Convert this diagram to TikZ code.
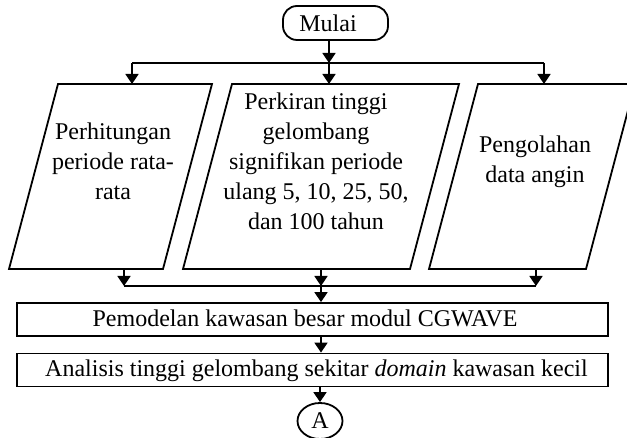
\documentclass[tikz,border=0pt]{standalone}
\usepackage{fontspec}
\setmainfont{Liberation Serif}
\usetikzlibrary{arrows.meta,shapes.geometric}
\begin{document}
\begin{tikzpicture}[x=0.5pt,y=-0.5pt,
  line width=0.9pt,
  arr/.style={-{Triangle[length=5pt,width=6.5pt]}},
  txt/.style={font=\fontsize{12}{15}\selectfont, align=center, inner sep=0pt},
  boxshape/.style={draw, minimum width=295.5pt, minimum height=16.5pt, inner sep=0pt},
]
\clip (0,0) rectangle (627,438);
% start terminal
\node[draw, rounded corners=7pt, minimum width=52.5pt, minimum height=17pt, inner sep=0pt] (mulai) at (335.5,23) {};
\node[txt] (mulaitxt) at (328,23) {Mulai};
% split
\coordinate (sl) at (132,63);
\coordinate (sc) at (329,63);
\coordinate (sr) at (544,63);
\draw[arr] (mulai.south -| sc) -- (sc);
\draw (sl) -- (sr);
% parallelograms
\coordinate (p1bl) at (9,269);  \coordinate (p1br) at (163,269);
\coordinate (p1tr) at (212,84); \coordinate (p1tl) at (58,84);
\coordinate (p2bl) at (183,269); \coordinate (p2br) at (410,269);
\coordinate (p2tr) at (459,84);  \coordinate (p2tl) at (232,84);
\coordinate (p3bl) at (429,269); \coordinate (p3br) at (586,269);
\coordinate (p3tr) at (635,84);  \coordinate (p3tl) at (478,84);
\draw (p1bl) -- (p1br) -- (p1tr) -- (p1tl) -- cycle;
\draw (p2bl) -- (p2br) -- (p2tr) -- (p2tl) -- cycle;
\draw (p3bl) -- (p3br) -- (p3tr) -- (p3tl) -- cycle;
\node[txt] (t1) at (113,161) {Perhitungan\\periode rata-\\rata};
\node[txt] (t2) at (316,161) {Perkiran tinggi\\gelombang\\signifikan periode\\ulang 5, 10, 25, 50,\\dan 100 tahun};
\node[txt] (t3) at (535,162) {Pengolahan\\data angin};
\draw[arr] (sl) -- (sl |- p1tl);
\draw[arr] (sc) -- (sc |- p2tl);
\draw[arr] (sr) -- (sr |- p3tl);
% merge
\coordinate (ml) at (124,286);
\coordinate (mc) at (321,286);
\coordinate (mr) at (536,286);
\draw[arr] (ml |- p1bl) -- (ml);
\draw[arr] (mc |- p2bl) -- (mc);
\draw[arr] (mr |- p3bl) -- (mr);
\draw (ml) -- (mr);
% process boxes
\node[boxshape] (b1) at (312.5,319.5) {};
\node[txt, anchor=base] (b1t) at (305,327) {Pemodelan kawasan besar modul CGWAVE};
\node[boxshape] (b2) at (312.5,370) {};
\node[txt, anchor=base] (b2t) at (316.5,377) {Analisis tinggi gelombang sekitar \textit{domain} kawasan kecil};
\draw[arr] (mc) -- (mc |- b1.north);
\draw[arr] (b1.south -| mc) -- (b2.north -| mc);
% connector
\node[draw, ellipse, minimum width=22.5pt, minimum height=18pt, inner sep=0pt] (a) at (320,421) {};
\node[txt] (atxt) at (320,421) {A};
\draw[arr] (b2.south -| a) -- (a.north);
\end{tikzpicture}
\end{document}
